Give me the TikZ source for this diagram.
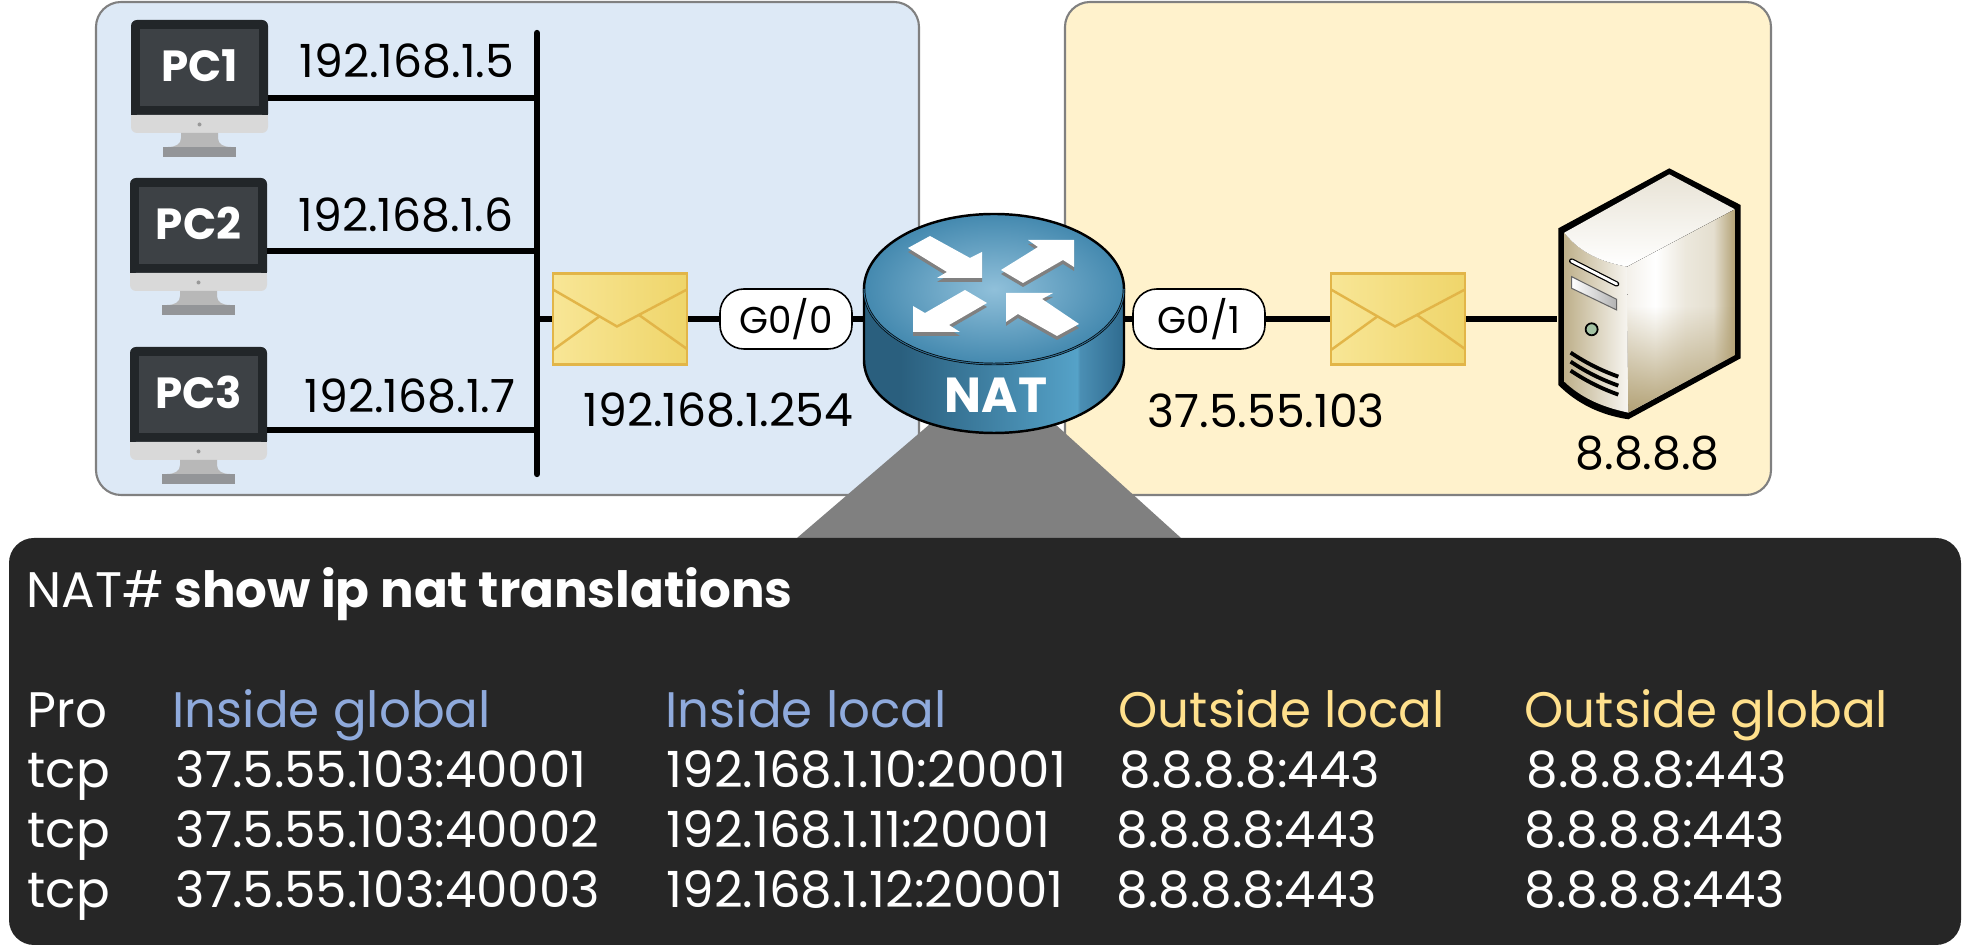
\documentclass[tikz,border=0pt]{standalone}
\usepackage{fontspec}
\setmainfont{Poppins}
\usetikzlibrary{fadings}

\definecolor{insidezone}{HTML}{DDE9F6}
\definecolor{outsidezone}{HTML}{FFF2CC}
\definecolor{zoneborder}{HTML}{808080}
\definecolor{termback}{HTML}{262626}
\definecolor{insidehead}{HTML}{8FAADC}
\definecolor{outsidehead}{HTML}{FFE08C}
\definecolor{envedge}{HTML}{E2B548}
\definecolor{envleft}{HTML}{F8E696}
\definecolor{envright}{HTML}{EFD56A}
\definecolor{rsidea}{HTML}{2A5F7E}
\definecolor{rsideb}{HTML}{55A2C8}
\definecolor{rsidec}{HTML}{4B8FB4}
\definecolor{rsided}{HTML}{2F6B8F}
\definecolor{rtopin}{HTML}{90C0DA}
\definecolor{rtopout}{HTML}{4489AF}
\definecolor{srvtan}{HTML}{B3A276}
\definecolor{pcbezel}{HTML}{222629}
\definecolor{pcscreen}{HTML}{3D4145}
\definecolor{pcchin}{HTML}{D9D9D9}
\definecolor{pcdot}{HTML}{999999}
\definecolor{pcneck}{HTML}{B8B8B8}
\definecolor{pcbase}{HTML}{939598}

\pgfdeclarehorizontalshading{routerside}{100bp}{
  color(0bp)=(rsidea); color(32bp)=(rsidea); color(66bp)=(rsideb);
  color(66.5bp)=(rsidec); color(75bp)=(rsided); color(100bp)=(rsided)}
\pgfdeclarehorizontalshading{serverside}{100bp}{
  color(0bp)=(white!85!srvtan); color(25bp)=(white!85!srvtan); color(38bp)=(white);
  color(52bp)=(white!75!srvtan); color(65bp)=(white!65!srvtan); color(75bp)=(srvtan); color(100bp)=(srvtan)}

\tikzset{
    netlink/.style={line width=1.8pt},
    zonebox/.style={draw=zoneborder, line width=0.6pt, rounded corners=2.5mm},
    iplabel/.style={anchor=base west, inner sep=0pt, font=\fontsize{13}{16}\selectfont},
    termtext/.style={anchor=base west, inner sep=0pt, text=white, font=\fontsize{14.2}{17}\selectfont},
    pclabel/.style={anchor=base, inner sep=0pt, text=white, font=\fontsize{12.4}{15}\selectfont\bfseries},
    portpill/.style={draw=black, line width=0.45pt, fill=white, rounded corners=2.4mm, minimum width=13.2mm, minimum height=6mm, inner sep=0pt, font=\fontsize{10.6}{13}\selectfont},
    envbox/.style={draw=envedge, line width=0.7pt, left color=envleft, right color=envright, minimum width=13.4mm, minimum height=9.1mm, inner sep=0pt},
    arrowshadow/.style={fill=gray},
    arrowface/.style={fill=white}
}

\newcommand{\pcicon}[5]{
\begin{scope}[shift={(#2,#3)}]
\fill[pcbezel, rounded corners=0.6mm] (0,100) -- (0,0) -- (137,0) -- (137,100) -- cycle;
\fill[pcscreen] (9,9) rectangle (128,86);
\fill[pcchin, rounded corners=0.6mm] (0,95) -- (0,113) -- (137,113) -- (137,95) -- cycle;
\fill[pcchin] (0,95) rectangle (137,103);
\fill[pcdot] (68.5,104.5) circle (2);
\fill[pcneck] (50,113) -- (87,113) -- (87,118) .. controls (87,124) and (92,127) .. (100,127) -- (37,127) .. controls (45,127) and (50,124) .. (50,118) -- cycle;
\fill[pcbase] (32,127) rectangle (105,137);
\node[pclabel] (#1) at (68.5,61.5) {#4};
\coordinate (#1port) at (137,#5);
\end{scope}
}

\newcommand{\envelope}[3]{
\node[envbox] (#1) at (#2,#3) {};
\draw[envedge, line width=0.7pt] (#2-67,#3-29.5) -- (#2-3,#3+7.5) -- (#2+67,#3-29.5);
\draw[envedge, line width=0.7pt] (#2-67,#3+31) -- (#2-20,#3-3);
\draw[envedge, line width=0.7pt] (#2+67,#3+30) -- (#2+19,#3-4);
}

\begin{document}
\begin{tikzpicture}[x=0.1mm, y=-0.1mm]
\useasboundingbox (0,0) rectangle (1963,950);

% zones
\draw[zonebox, fill=insidezone] (96,2) rectangle (919,495);
\draw[zonebox, fill=outsidezone] (1065,2) rectangle (1771,495);

% zoom wedge and terminal
\fill[zoneborder] (930,424) -- (1055,424) -- (1181,538) -- (797,538) -- cycle;
\fill[termback, rounded corners=2.5mm] (9,538) rectangle (1961,945);

% hosts
\pcicon{pc1}{131}{20}{PC1}{78}
\pcicon{pc2}{130}{178}{PC2}{73}
\pcicon{pc3}{130}{347}{PC3}{83}

\coordinate (busT) at (537,33);
\coordinate (busB) at (537,474);
\coordinate (busM) at (537,319);
\draw[netlink, line cap=round] (busT) -- (busB);
\draw[netlink] (pc1port) -- (pc1port -| busT);
\draw[netlink] (pc2port) -- (pc2port -| busT);
\draw[netlink] (pc3port) -- (pc3port -| busT);

\node[iplabel] (ip1) at (299,78) {192.168.1.5};
\node[iplabel] (ip2) at (298,232) {192.168.1.6};
\node[iplabel] (ip3) at (304,413) {192.168.1.7};

% middle row
\envelope{envL}{620}{319}
\envelope{envR}{1398}{319}
\node[portpill] (g00) at (786,319) {G0/0};
\node[portpill] (g01) at (1199,319) {G0/1};
\node[minimum width=26mm, minimum height=15mm, inner sep=0pt] (router) at (994,319) {};
\node[minimum width=18.3mm, minimum height=15mm, inner sep=0pt] (server) at (1649.5,319) {};

\draw[netlink] (busM) -- (envL);
\draw[netlink] (envL) -- (g00);
\draw[netlink] (g00) -- (router);
\draw[netlink] (router) -- (g01);
\draw[netlink] (g01) -- (envR);
\draw[netlink] (envR) -- (server);

\node[iplabel] (ipG0) at (583,427) {192.168.1.254};
\node[iplabel] (ipG1) at (1147,428) {37.5.55.103};
\node[iplabel] (ipS) at (1575,470) {8.8.8.8};

% router
\draw[black, line width=0.7pt, shading=routerside] (864,289) -- (864,360) .. controls (864,400.3) and (922,433) .. (994,433) .. controls (1066,433) and (1124,400.3) .. (1124,360) -- (1124,289) -- cycle;
\shade[draw=black, line width=0.7pt, inner color=rtopin, outer color=rtopout] (864,289) .. controls (864,247.6) and (922,214) .. (994,214) .. controls (1066,214) and (1124,247.6) .. (1124,289) .. controls (1124,330.4) and (1066,364) .. (994,364) .. controls (922,364) and (864,330.4) .. (864,289) -- cycle;
\draw[rsided, line width=0.3pt] (864,289) .. controls (864,330.4) and (922,364) .. (994,364) .. controls (1066,364) and (1124,330.4) .. (1124,289);
\begin{scope}[shift={(0,4)}]
\fill[arrowshadow] (908,248) -- (930,236) -- (970,258) -- (982,252) -- (982,278) -- (937,278) -- (947,272) -- cycle;
\fill[arrowshadow] (1001,270) -- (1038,247) -- (1028,240) -- (1074,240) -- (1074,267) -- (1063,260) -- (1023,283) -- cycle;
\fill[arrowshadow] (965,290) -- (987,303) -- (949,325) -- (960,332) -- (913,332) -- (913,306) -- (925,313) -- cycle;
\fill[arrowshadow] (1006,293) -- (1053,293) -- (1042,299) -- (1079,324) -- (1057,336) -- (1018,314) -- (1006,322) -- cycle;
\end{scope}
\fill[arrowface] (908,248) -- (930,236) -- (970,258) -- (982,252) -- (982,278) -- (937,278) -- (947,272) -- cycle;
\fill[arrowface] (1001,270) -- (1038,247) -- (1028,240) -- (1074,240) -- (1074,267) -- (1063,260) -- (1023,283) -- cycle;
\fill[arrowface] (965,290) -- (987,303) -- (949,325) -- (960,332) -- (913,332) -- (913,306) -- (925,313) -- cycle;
\fill[arrowface] (1006,293) -- (1053,293) -- (1042,299) -- (1079,324) -- (1057,336) -- (1018,314) -- (1006,322) -- cycle;
\node[pclabel, font=\fontsize{14}{16}\selectfont\bfseries] (natLabel) at (996,413) {NAT};

% server
\begin{scope}[shift={(1300,140)}, scale=0.3333]
\fill[black] (775,265) -- (1108,85) -- (1322,195) -- (1322,655) -- (985,838) .. controls (900,825) and (830,790) .. (775,735) -- cycle;
\shade[left color=srvtan!85, right color=white!90!srvtan] (793,278) .. controls (840,340) and (910,368) .. (982,380) -- (985,818) .. controls (900,800) and (840,770) .. (793,725) -- cycle;
\shade[top color=white!70!srvtan, bottom color=white] (793,278) -- (1108,103) -- (1305,208) -- (982,380) .. controls (910,368) and (840,340) .. (793,278) -- cycle;
\fill[shading=serverside] (982,380) -- (1305,208) -- (1305,645) -- (985,818) -- cycle;
\fill[srvtan, path fading=north] (982,500) -- (1305,500) -- (1305,645) -- (985,818) -- cycle;
\draw[black, line width=1.5pt, line cap=round] (815,363) -- (950,432);
\draw[white, line width=0.8pt, line cap=round] (815,363) -- (950,432);
\shade[draw=black!60, line width=0.3pt, left color=white, right color=gray!60] (815,410) -- (950,478) -- (950,510) -- (815,445) -- cycle;
\draw[black, line width=0.5pt, fill=green!20!gray!60] (875,568) circle (18);
\draw[black, line width=1.1pt] (812,638) .. controls (860,670) and (905,692) .. (955,710);
\draw[black, line width=1.1pt] (812,665) .. controls (860,697) and (905,719) .. (955,737);
\draw[black, line width=1.1pt] (812,692) .. controls (860,724) and (905,746) .. (955,764);
\end{scope}

% terminal text
\node[termtext] (cmdPrompt) at (26,608) {NAT\#\hspace{-1pt} \textbf{show ip nat translations}};
\node[termtext] (headPro) at (27,728) {Pro};
\node[termtext, text=insidehead] (headIG) at (172,728) {Inside global};
\node[termtext, text=insidehead] (headIL) at (665,728) {Inside local};
\node[termtext, text=outsidehead] (headOL) at (1118,728) {Outside local};
\node[termtext, text=outsidehead] (headOG) at (1524,728) {Outside global};

\node[termtext] (proA) at (27,788) {tcp};
\node[termtext] (igA) at (175,788) {37.5.55.103:40001};
\node[termtext] (ilA) at (666,788) {192.168.1.10:20001};
\node[termtext] (olA) at (1119,788) {8.8.8.8:443};
\node[termtext] (ogA) at (1526,788) {8.8.8.8:443};

\node[termtext] (proB) at (27,848) {tcp};
\node[termtext] (igB) at (175,848) {37.5.55.103:40002};
\node[termtext] (ilB) at (666,848) {192.168.1.11:20001};
\node[termtext] (olB) at (1116,848) {8.8.8.8:443};
\node[termtext] (ogB) at (1524,848) {8.8.8.8:443};

\node[termtext] (proC) at (27,908) {tcp};
\node[termtext] (igC) at (175,908) {37.5.55.103:40003};
\node[termtext] (ilC) at (666,908) {192.168.1.12:20001};
\node[termtext] (olC) at (1116,908) {8.8.8.8:443};
\node[termtext] (ogC) at (1524,908) {8.8.8.8:443};

\end{tikzpicture}
\end{document}
